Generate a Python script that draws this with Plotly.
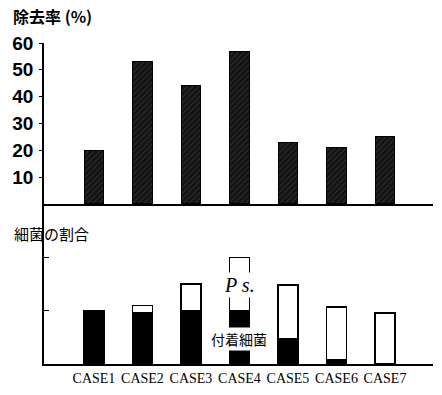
import plotly.graph_objects as go

cases = ["CASE1", "CASE2", "CASE3", "CASE4", "CASE5", "CASE6", "CASE7"]
removal_rate = [20, 53, 44, 57, 23, 21, 25]
attached_bacteria = [1.0, 0.97, 1.0, 1.0, 0.47, 0.08, 0.0]
ps_bacteria = [0.0, 0.13, 0.5, 1.0, 1.01, 0.99, 0.96]
top_ticks = [10, 20, 30, 40, 50, 60]

fig = go.Figure()

fig.add_trace(go.Bar(
    x=cases, y=removal_rate, xaxis="x2", yaxis="y2", width=0.41,
    marker=dict(color="#141414", line=dict(color="black", width=1),
                pattern=dict(shape="/", fgcolor="#6a6a6a", size=4, solidity=0.2)),
    showlegend=False,
))
fig.add_trace(go.Bar(
    x=cases, y=attached_bacteria, xaxis="x", yaxis="y", width=0.41,
    marker=dict(color="black", line=dict(color="black", width=1.5)),
    showlegend=False,
))
fig.add_trace(go.Bar(
    x=cases, y=ps_bacteria, xaxis="x", yaxis="y", width=0.41,
    marker=dict(color="white", line=dict(color="black", width=1.5)),
    showlegend=False,
))

xr = [-1.03, 6.99]
split = 162 / 325

fig.update_layout(
    width=442, height=395,
    margin=dict(l=44, r=9, t=43, b=27),
    paper_bgcolor="white", plot_bgcolor="white",
    barmode="stack",
    font=dict(family="Liberation Serif", color="black"),
    xaxis=dict(domain=[0, 1], anchor="y", range=xr, showgrid=False,
               showline=True, linecolor="black", linewidth=2,
               ticks="", tickfont=dict(family="Liberation Serif", size=14, color="black")),
    yaxis=dict(domain=[0, split], range=[0, 3.0], showgrid=False, zeroline=False,
               showline=True, linecolor="black", linewidth=1.5,
               tickvals=[1, 2], ticktext=["", ""], ticks="inside", ticklen=5,
               tickcolor="black"),
    xaxis2=dict(domain=[0, 1], anchor="y2", range=xr, showgrid=False,
                showline=True, linecolor="black", linewidth=2,
                showticklabels=False, ticks=""),
    yaxis2=dict(domain=[split, 1], range=[0, 60], showgrid=False, zeroline=False,
                showline=True, linecolor="black", linewidth=1.5,
                tickvals=top_ticks, ticks="outside", ticklen=3, tickcolor="black",
                ticklabelstandoff=2,
                tickfont=dict(family="Liberation Sans", size=19, color="black", weight="bold")),
    annotations=[
        dict(text="除去率 (%)", xref="paper", yref="paper", x=-0.085, y=1.083,
             xanchor="left", yanchor="middle", showarrow=False,
             font=dict(family="Noto Sans CJK JP", size=16, color="black", weight="bold")),
        dict(text="細菌の割合", xref="paper", yref="paper", x=-0.082, y=(368 - 236) / 325,
             xanchor="left", yanchor="middle", showarrow=False,
             font=dict(family="Noto Sans CJK JP", size=15, color="black")),
        dict(text="<i>P s.</i>", xref="x", yref="y", x="CASE4", y=1.48,
             showarrow=False, bgcolor="white",
             font=dict(family="Liberation Serif", size=20, color="black")),
        dict(text="付着細菌", xref="x", yref="y", x="CASE4", y=0.46,
             showarrow=False, bgcolor="white",
             font=dict(family="Noto Sans CJK JP", size=14, color="black")),
    ],
)

fig.write_html("out.html", config={"displayModeBar": False},
               post_script="document.body.style.margin='0px';")
